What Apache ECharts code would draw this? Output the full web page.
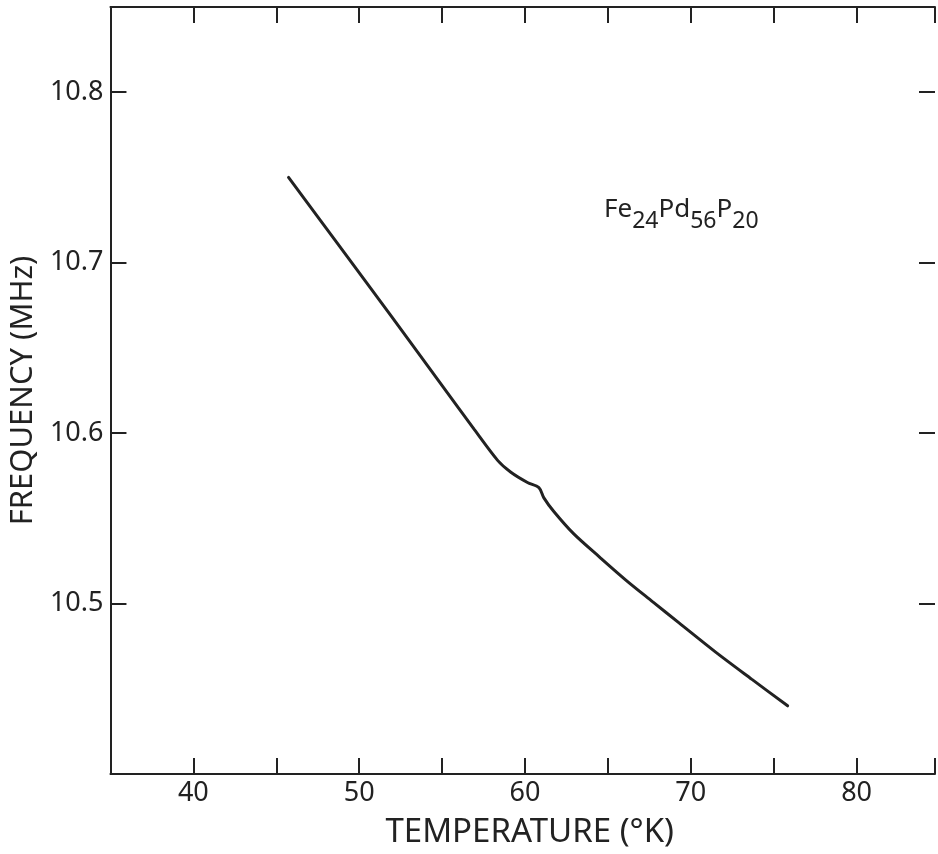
<!DOCTYPE html>
<html>
<head>
<meta charset="utf-8">
<script src="https://cdn.jsdelivr.net/npm/echarts@6/dist/echarts.min.js"></script>
<style>
  html, body { margin: 0; padding: 0; background: #ffffff; }
  #chart { width: 938px; height: 854px; }
</style>
</head>
<body>
<div id="chart"></div>
<script>
// Temperature (°K) and resonance frequency (MHz) along the measured curve
var temperature = [45.74, 48.79, 51.98, 55.07, 56.95, 58.35, 59.15, 60.15, 60.84, 61.14, 61.74, 62.93, 64.53, 66.12, 67.71, 69.31, 71.50, 73.69, 75.84];
var frequency   = [10.750, 10.710, 10.668, 10.627, 10.602, 10.584, 10.577, 10.571, 10.568, 10.562, 10.554, 10.541, 10.527, 10.5135, 10.501, 10.4885, 10.4715, 10.4555, 10.440];

var xLabels = [40, 50, 60, 70, 80];
var yLabels = [10.5, 10.6, 10.7, 10.8];
var sampleName = 'Fe24Pd56P20';

var ink = '#222222';
var font = 'Noto Sans';

var points = temperature.map(function (t, i) { return [t, frequency[i]]; });

var chart = echarts.init(document.getElementById('chart'), null, { renderer: 'canvas' });

// The frame runs just past the right edge of the page, so the x range ends a little short of 85
var frameAxisX = {
  type: 'value', min: 35, max: 84.73, interval: 5,
  axisLine: { show: true, onZero: false, lineStyle: { color: ink, width: 2 } },
  axisTick: { show: true, inside: true, length: 16, lineStyle: { color: ink, width: 2 } },
  splitLine: { show: false }
};
var frameAxisY = {
  type: 'value', min: 10.4, max: 10.85, interval: 0.1,
  axisLine: { show: true, onZero: false, lineStyle: { color: ink, width: 2 } },
  axisTick: { show: true, inside: true, length: 16, lineStyle: { color: ink, width: 2 } },
  splitLine: { show: false }
};

chart.setOption({
  animation: false,
  backgroundColor: '#ffffff',
  grid: { left: 106, right: 0, top: 7, bottom: 80, containLabel: false },
  xAxis: [
    Object.assign({}, frameAxisX, {
      position: 'bottom',
      name: 'TEMPERATURE (°K)',
      nameLocation: 'middle',
      nameGap: 42,
      nameTextStyle: { color: ink, fontFamily: font, fontSize: 33, padding: [0, 0, 0, 14] },
      axisLabel: {
        color: ink, fontFamily: font, fontSize: 27, margin: 6,
        formatter: function (v) { return xLabels.indexOf(v) >= 0 ? String(v) : ''; }
      }
    }),
    Object.assign({}, frameAxisX, {
      position: 'top',
      axisLabel: { show: false }
    })
  ],
  yAxis: [
    Object.assign({}, frameAxisY, {
      position: 'left',
      name: 'FREQUENCY (MHz)',
      nameLocation: 'middle',
      nameGap: 67,
      nameRotate: 90,
      nameTextStyle: { color: ink, fontFamily: font, fontSize: 31 },
      axisLabel: {
        color: ink, fontFamily: font, fontSize: 27, margin: 7,
        formatter: function (v) {
          var r = Math.round(v * 10) / 10;
          return (Math.abs(v - r) < 1e-6 && yLabels.indexOf(r) >= 0) ? r.toFixed(1) : '';
        }
      }
    }),
    Object.assign({}, frameAxisY, {
      position: 'right',
      axisLine: { show: false },
      axisLabel: { show: false }
    })
  ],
  graphic: [{
    type: 'text',
    left: 604,
    top: 197,
    style: {
      text: '{b|Fe}{s|24}{b|Pd}{s|56}{b|P}{s|20}',
      rich: {
        b: { fontFamily: font, fontSize: 26, fill: ink, color: ink, verticalAlign: 'top' },
        s: { fontFamily: font, fontSize: 23, fill: ink, color: ink, verticalAlign: 'bottom', padding: [13, 0, 0, 0] }
      }
    }
  }],
  series: [{
    name: sampleName,
    type: 'line',
    xAxisIndex: 0,
    yAxisIndex: 0,
    data: points,
    smooth: 0.3,
    showSymbol: false,
    lineStyle: { color: ink, width: 3, cap: 'round' }
  }]
});
</script>
</body>
</html>
